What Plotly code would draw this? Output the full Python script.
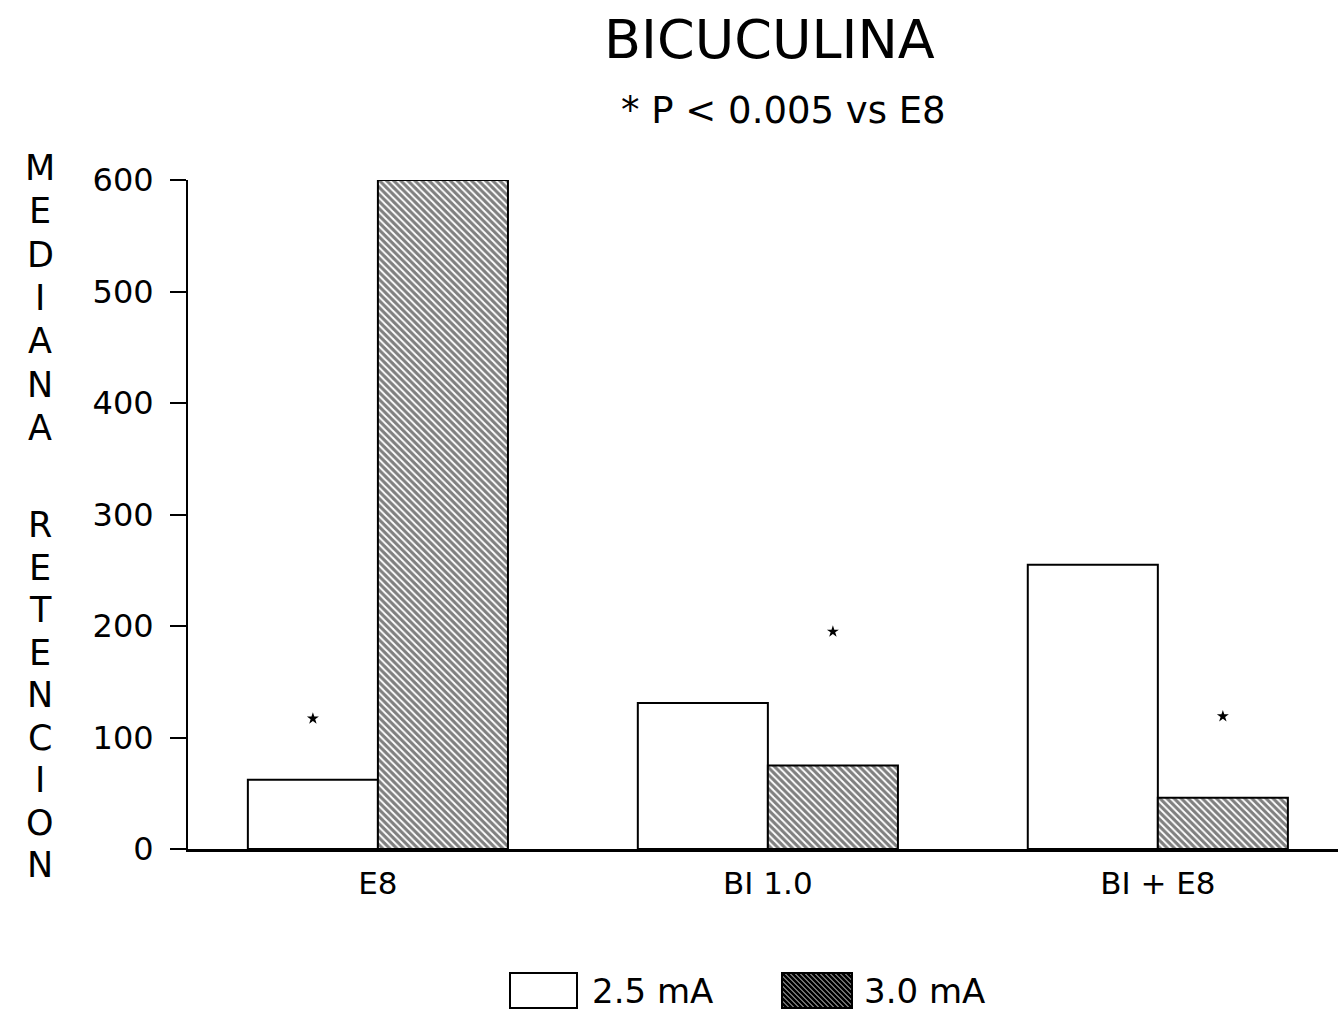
import plotly.graph_objects as go

# ---- data ----
categories = ["E8", "BI 1.0", "BI + E8"]
series_names = ["2.5 mA", "3.0 mA"]
values_25 = [62, 131, 255]
values_30 = [600, 75, 46]
# heights of significance asterisks (one per marked bar)
sig_25 = [117, None, None]
sig_30 = [None, 195, 119]
y_ticks = [0, 100, 200, 300, 400, 500, 600]
title_text = "BICUCULINA"
subtitle_text = "* P < 0.005 vs E8"
ylabel_words = ["MEDIANA", "RETENCION"]

# ---- layout params ----
W, H = 1338, 1018
ML, MR, MT, MB = 188, 0, 180, 169
FONT = "DejaVu Sans"
BARGAP = 0.333
bar_w = (1 - BARGAP) / 2
idx = list(range(len(categories)))

fig = go.Figure()
fig.add_trace(go.Bar(
    x=idx, y=values_25, name=series_names[0],
    marker=dict(color="white", line=dict(color="black", width=2)),
    showlegend=False,
))
fig.add_trace(go.Bar(
    x=idx, y=values_30, name=series_names[1],
    marker=dict(color="white", line=dict(color="black", width=2),
                pattern=dict(shape="\\", fgcolor="black", bgcolor="white",
                             size=5, solidity=0.62)),
    showlegend=False,
))
fig.add_trace(go.Scatter(
    x=[i - bar_w / 2 for i in idx], y=sig_25, mode="markers",
    marker=dict(symbol="star", size=9, color="black"), showlegend=False,
))
fig.add_trace(go.Scatter(
    x=[i + bar_w / 2 for i in idx], y=sig_30, mode="markers",
    marker=dict(symbol="star", size=9, color="black"), showlegend=False,
))

plot_w = W - ML - MR
plot_h = H - MT - MB


def px(xp):
    return (xp - ML) / plot_w


def py(yp):
    return (H - MB - yp) / plot_h


annotations = []
annotations.append(dict(text=title_text, x=px(769), y=py(40), xref="paper", yref="paper",
                        showarrow=False, xanchor="center", yanchor="middle",
                        font=dict(family=FONT, size=54, color="black")))
annotations.append(dict(text=subtitle_text, x=px(783), y=py(110), xref="paper", yref="paper",
                        showarrow=False, xanchor="center", yanchor="middle",
                        font=dict(family=FONT, size=37, color="black")))

# vertical stacked axis label (one letter per line)
word_spans = [(168, 428), (525, 865)]
for word, (ys, ye) in zip(ylabel_words, word_spans):
    n = len(word)
    step = (ye - ys) / (n - 1)
    for i, ch in enumerate(word):
        annotations.append(dict(text=ch, x=px(40), y=py(ys + i * step), xref="paper", yref="paper",
                                showarrow=False, xanchor="center", yanchor="middle",
                                font=dict(family=FONT, size=35, color="black")))

# legend (manual)
shapes = []
leg_boxes = [(510, 973, 577, 1008), (782, 973, 852, 1008)]
leg_text_x = [590, 862]
for k, (x0, y0, x1, y1) in enumerate(leg_boxes):
    shapes.append(dict(type="rect", xref="paper", yref="paper",
                       x0=px(x0), x1=px(x1), y0=py(y1), y1=py(y0),
                       line=dict(color="black", width=2), fillcolor="white"))
    if k == 1:
        s = 5
        path = ""
        c = x0 - y1
        while c <= x1 - y0:
            ya = max(y0, x0 - c)
            yb = min(y1, x1 - c)
            if yb > ya:
                path += f"M{px(ya + c)},{py(ya)} L{px(yb + c)},{py(yb)} "
            c += s
        shapes.append(dict(type="path", xref="paper", yref="paper", path=path,
                           line=dict(color="black", width=3)))
    annotations.append(dict(text=series_names[k], x=px(leg_text_x[k]), y=py((y0 + y1) / 2),
                            xref="paper", yref="paper", showarrow=False,
                            xanchor="left", yanchor="middle",
                            font=dict(family=FONT, size=34, color="black")))

fig.update_layout(
    width=W, height=H,
    margin=dict(l=ML, r=MR, t=MT, b=MB, pad=0),
    paper_bgcolor="white", plot_bgcolor="white",
    barmode="group", bargap=BARGAP, bargroupgap=0,
    font=dict(family=FONT, color="black"),
    annotations=annotations, shapes=shapes,
    showlegend=False,
)
fig.update_xaxes(
    range=[-0.487, 2.462], tickvals=idx, ticktext=categories,
    showgrid=False, zeroline=False, showline=True, linecolor="black", linewidth=3,
    ticks="", tickfont=dict(family=FONT, size=31, color="black"), ticklabelstandoff=5,
)
fig.update_yaxes(
    range=[0, 600], tickvals=y_ticks,
    showgrid=False, zeroline=False, showline=True, linecolor="black", linewidth=2,
    ticks="outside", ticklen=16, tickwidth=2, tickcolor="black",
    tickfont=dict(family=FONT, size=32, color="black"), ticklabelstandoff=10,
)

fig.write_html("out.html")
